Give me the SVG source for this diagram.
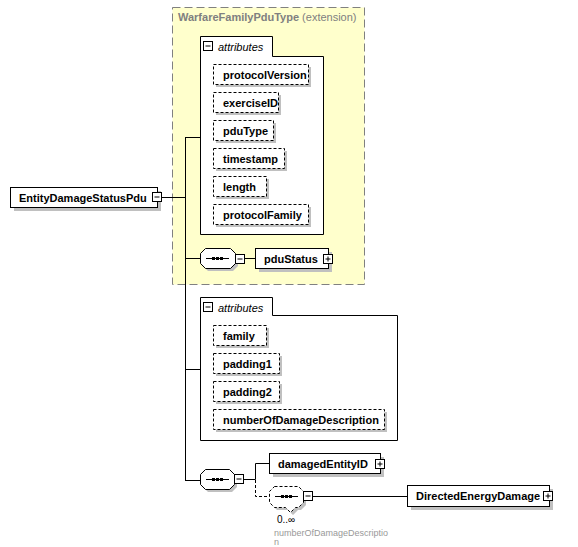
<svg xmlns="http://www.w3.org/2000/svg" width="578" height="547" viewBox="0 0 578 547">
<style>
.bg{fill:#fff}
.sh{fill:#c0c0c0}
.box{fill:#fff;stroke:#000;stroke-width:1}
.attr{fill:#fff;stroke:#000;stroke-width:1;stroke-dasharray:3,2}
.ln{fill:none;stroke:#000;stroke-width:1}
.dl{fill:none;stroke:#000;stroke-width:1;stroke-dasharray:3,2}
.t{font-family:"Liberation Sans",Arial,sans-serif;font-weight:bold;font-size:11px;fill:#000}
.it{font-family:"Liberation Sans",Arial,sans-serif;font-style:italic;font-size:11px;fill:#000}
.gt{font-family:"Liberation Sans",Arial,sans-serif;font-size:11px;fill:#808080}
.sm{font-family:"Liberation Sans",Arial,sans-serif;font-size:10px;fill:#000}
.smg{font-family:"Liberation Sans",Arial,sans-serif;font-size:9px;fill:#999}
.ico{fill:#fff;stroke:#000;stroke-width:1}
</style>
<defs>
<g id="minus"><rect class="ico" x="0.5" y="0.5" width="9" height="9"/><path class="ln" d="M2.5,5H7.5"/></g>
<g id="plus"><rect class="ico" x="0.5" y="0.5" width="9" height="9"/><path class="ln" d="M2.5,5H7.5M5,2.5V7.5"/></g>
<g id="seqdots"><path class="ln" d="M0,0.5H23"/><rect x="6" y="-1" width="3" height="3" fill="#000"/><rect x="10" y="-1" width="3" height="3" fill="#000"/><rect x="14" y="-1" width="3" height="3" fill="#000"/></g>
</defs>
<rect width="578" height="547" class="bg"/>

<g id="extension">
<rect x="172.5" y="7.5" width="192" height="277" fill="#ffffcc" stroke="#808080" stroke-dasharray="8,4"/>
<text x="178" y="21" class="gt"><tspan font-weight="bold">WarfareFamilyPduType</tspan> (extension)</text>
</g>

<g id="connectors">
<path class="ln" d="M162,197.5H185.5M185.5,137V480.5M185,137.5H200M185,258.5H200M185,369.5H200M185,480.5H200"/>
<path class="ln" d="M245,258.5H255"/>
<path class="ln" d="M244,479.5H255.5V463.5H269"/>
<path class="dl" d="M255.5,480V496.5H269"/>
<path class="ln" d="M313,496.5H407"/>
</g>

<g id="EntityDamageStatusPdu">
<rect class="sh" x="14" y="191" width="147" height="20"/>
<rect class="box" x="10.5" y="187.5" width="147" height="20"/>
<text x="19" y="201.5" class="t">EntityDamageStatusPdu</text>
<use href="#minus" x="152" y="192"/>
</g>

<g id="attributes1">
<path class="box" d="M200.5,234.5V36.5H272.5V56.5H323.5V234.5Z"/>
<use href="#minus" x="203" y="41"/>
<text x="218" y="51" class="it">attributes</text>
</g>
<g id="protocolVersion"><rect class="sh" x="216" y="67" width="95" height="20"/><rect class="attr" x="213.5" y="64.5" width="95" height="20"/><text x="223" y="79" class="t">protocolVersion</text></g>
<g id="exerciseID"><rect class="sh" x="216" y="95" width="65" height="20"/><rect class="attr" x="213.5" y="92.5" width="65" height="20"/><text x="223" y="107" class="t">exerciseID</text></g>
<g id="pduType"><rect class="sh" x="216" y="123" width="60" height="20"/><rect class="attr" x="213.5" y="120.5" width="60" height="20"/><text x="223" y="135" class="t">pduType</text></g>
<g id="timestamp"><rect class="sh" x="216" y="151" width="71" height="20"/><rect class="attr" x="213.5" y="148.5" width="71" height="20"/><text x="223" y="163" class="t">timestamp</text></g>
<g id="length"><rect class="sh" x="216" y="179" width="53" height="20"/><rect class="attr" x="213.5" y="176.5" width="53" height="20"/><text x="223" y="191" class="t">length</text></g>
<g id="protocolFamily"><rect class="sh" x="216" y="207" width="95" height="20"/><rect class="attr" x="213.5" y="204.5" width="95" height="20"/><text x="223" y="219" class="t">protocolFamily</text></g>

<g id="sequence1">
<path class="sh" d="M208,251H233L238,256V266L233,271H208L203,266V256Z"/>
<path class="box" d="M205.5,248.5H230.5L235.5,253.5V263.5L230.5,268.5H205.5L200.5,263.5V253.5Z"/>
<use href="#seqdots" x="206" y="258"/>
<use href="#minus" x="235" y="254"/>
</g>

<g id="pduStatus">
<rect class="sh" x="259" y="252" width="73" height="20"/>
<rect class="box" x="255.5" y="248.5" width="73" height="20"/>
<text x="264" y="262.5" class="t">pduStatus</text>
<use href="#plus" x="323" y="254"/>
</g>

<g id="attributes2">
<path class="box" d="M200.5,440.5V297.5H272.5V315.5H397.5V440.5Z"/>
<use href="#minus" x="203" y="302"/>
<text x="218" y="312" class="it">attributes</text>
</g>
<g id="family"><rect class="sh" x="216" y="328" width="53" height="20"/><rect class="attr" x="213.5" y="325.5" width="53" height="20"/><text x="223" y="340" class="t">family</text></g>
<g id="padding1"><rect class="sh" x="216" y="356" width="66" height="20"/><rect class="attr" x="213.5" y="353.5" width="66" height="20"/><text x="223" y="368" class="t">padding1</text></g>
<g id="padding2"><rect class="sh" x="216" y="384" width="66" height="20"/><rect class="attr" x="213.5" y="381.5" width="66" height="20"/><text x="223" y="396" class="t">padding2</text></g>
<g id="numberOfDamageDescription"><rect class="sh" x="216" y="412" width="171" height="20"/><rect class="attr" x="213.5" y="409.5" width="171" height="20"/><text x="223" y="424" class="t">numberOfDamageDescription</text></g>

<g id="sequence2">
<path class="sh" d="M208,472H232L237,477V487L232,492H208L203,487V477Z"/>
<path class="box" d="M205.5,469.5H229.5L234.5,474.5V484.5L229.5,489.5H205.5L200.5,484.5V474.5Z"/>
<use href="#seqdots" x="206" y="479"/>
<use href="#minus" x="234" y="474"/>
</g>

<g id="damagedEntityID">
<rect class="sh" x="273" y="457" width="111" height="20"/>
<rect class="box" x="269.5" y="453.5" width="111" height="20"/>
<text x="278" y="467.5" class="t">damagedEntityID</text>
<use href="#plus" x="375" y="459"/>
</g>

<g id="sequence3">
<path class="sh" d="M277,489H301L306,494V505L301,510H298L293,515L288,510H277L272,505V494Z"/>
<path class="attr" d="M274.5,486.5H298.5L303.5,491.5V502.5L298.5,507.5H295.5L290.5,512.5L285.5,507.5H274.5L269.5,502.5V491.5Z"/>
<use href="#seqdots" x="275" y="496"/>
<use href="#minus" x="303" y="491"/>
<text x="277" y="523" class="sm">0..∞</text>
<text x="274" y="536" class="smg">numberOfDamageDescriptio</text>
<text x="274" y="545" class="smg">n</text>
</g>

<g id="DirectedEnergyDamage">
<rect class="sh" x="411" y="489" width="142" height="21"/>
<rect class="box" x="407.5" y="485.5" width="142" height="21"/>
<text x="416" y="500" class="t">DirectedEnergyDamage</text>
<use href="#plus" x="543" y="491"/>
</g>
</svg>
